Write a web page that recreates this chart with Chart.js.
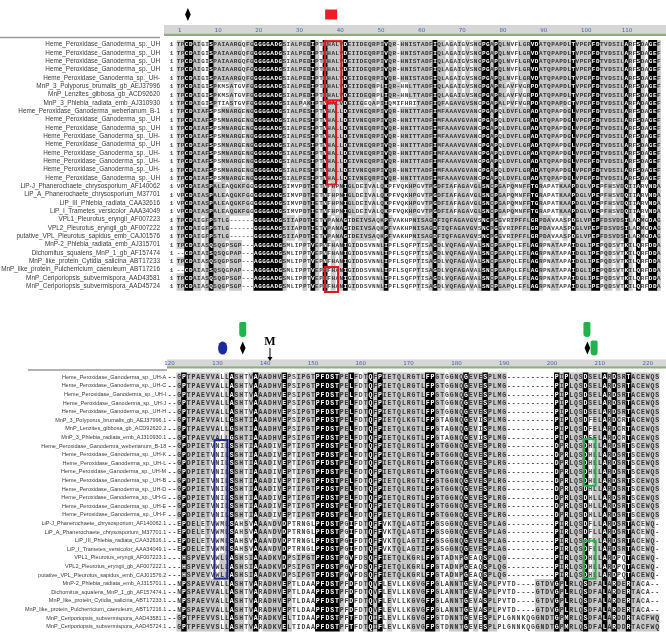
<!DOCTYPE html>
<html>
<head>
<meta charset="utf-8">
<script src="https://cdn.jsdelivr.net/npm/chart.js@4.4.1/dist/chart.umd.min.js"></script>
<style>
html, body { margin: 0; padding: 0; background: #fff; overflow: hidden; }
#wrap { position: relative; width: 666px; height: 634px; overflow: hidden; }
#topBox { position: absolute; left: 0; top: 0; }
#botBox { position: absolute; left: 0; top: 315px; }
</style>
</head>
<body>
<div id="wrap">
  <div id="topBox"><canvas id="topChart" width="666" height="315"></canvas></div>
  <div id="botBox"><canvas id="botChart" width="666" height="330"></canvas></div>
</div>
<script>
// ---- data: top block (positions 1-119) ----
const topTicks = [1, 10, 20, 30, 40, 50, 60, 70, 80, 90, 100, 110];
const topNames = [
  'Heme_Peroxidase_Ganoderma_sp._UH', 'Heme_Peroxidase_Ganoderma_sp._UH', 'Heme_Peroxidase_Ganoderma_sp._UH',
  'Heme_Peroxidase_Ganoderma_sp._UH', 'Heme_Peroxidase_Ganoderma_sp._UH-', 'MnP_3_Polyporus_brumalis_gb_AEJ37996',
  'MnP_Lenzites_gibbosa_gb_ACD92620', 'MnP_3_Phlebia_radiata_emb_AJ310930', 'Heme_Peroxidase_Ganoderma_weberianum_B-1',
  'Heme_Peroxidase_Ganoderma_sp._UH', 'Heme_Peroxidase_Ganoderma_sp._UH', 'Heme_Peroxidase_Ganoderma_sp._UH-',
  'Heme_Peroxidase_Ganoderma_sp._UH', 'Heme_Peroxidase_Ganoderma_sp._UH-', 'Heme_Peroxidase_Ganoderma_sp._UH-',
  'Heme_Peroxidase_Ganoderma_sp._UH-', 'Heme_Peroxidase_Ganoderma_sp._UH', 'LiP-J_Phanerochaete_chrysosporium_AF140062',
  'LiP_A_Phanerochaete_chrysosporium_M37701', 'LiP_III_Phlebia_radiata_CAA32616', 'LiP_I_Trametes_versicolor_AAA34049',
  'VPL1_Pleurotus_eryngii_AF007223', 'VPL2_Pleurotus_eryngii_gb_AF007222', 'putative_VPL_Pleurotus_sapidus_emb_CAJ01576',
  'MnP-2_Phlebia_radiata_emb_AJ315701', 'Dichomitus_squalens_MnP_1_gb_AF157474', 'MnP_like_protein_Cytidia_salicina_ABT17233',
  'MnP_like_protein_Pulcherricium_caeruleum_ABT17216', 'MnP_Ceriporiopsis_subvermispora_AAD43581', 'MnP_Ceriporiopsis_subvermispora_AAD45724'
];
const topRowGroup = [0,0,0,0,0,1,1,2,3,3,3,3,3,3,3,3,3,4,4,4,4,5,5,5,6,7,6,7,6,6];
const topSeq = [
  'TPCDAIGISP AIAARGQFGG GGGADGSIAL PEDIPTNHAL VDEIIDEQRP IVQR-HNIST ADFIQLAGAI GVSNCPGAPQ LNVFLGRVDA TQPAPDLTVP EPFDTVDSIL ARFSDAGEF',
  'TPCDAIGISP KMSATGVFGG GGGADGSIAL PEDIPTNHAL VDEIIDEQRP LIQR-HNLTT ADFIQLAGAI GVSNCPGAPR LAVFVGRPDA TQPAPDLTVP EPFDTVDSIL ARFSDAGEF',
  'TPCDAIGISP TIASTGVFGG GGGADGSIAL PAKIPTNHAL VDEIIGEQAP IIQMIFHRIT ADFIQFAGAV GVSNCPGAPA LPVFVGRPDA TQPAPDCTVP EPFDTVDSIL ARFADAGEF',
  'TPCDAIAFSP SMNARGENGG GGGADGSIAL PESIPTNHAL LDEIVNEQRP IVQR-HNITT ADFIMFAAAV GVANCPGAPQ LDVFLGRADA TQPAPDGLVP EPFDTVDSIL ARFSDAGEF',
  'VPCDAIASPA LEAQGKFGGG GGGADGSIMV PDTIETNFHP NIGLDEIVAL QKPFVQKHPG VTPGDFIAFA GAVGLSNCPG APQMNFFTGR APATKAAPDG LVPEPFHSVD QIIARVNDA',
  'TPCDAIGFPS TLG------G GGGADGSIIA PDTIETVPAN AGIDEIVSAQ KPFVAKHPNI SAGDFIQFAG AVGVSNCPGG VRIPFFLGRP DAVAASPDGL VPEPFDSVDS ILARMGDAG',
  'TPCDAIASQS QGPSGP---A GGGADGSMLI PPTVEPNFHA NIGIDDSVNN LIPFLSQFPT ISAGDLVQFA GAVALSNCPG APQLEFLAGR PNATAPAIDG LIPEPQDSVT KILQRFDDA',
  '--CDAIAISQ SQGPAP---A GGGADGSMLI PPTVEPNFHA NIGIDDSVNN LIPFLSQFPT ISAGDLVQFA GAVALSNCPG APQLEFLAGR PNATAPAIDG LIPEPQDSVT KILQRFDDA'
];
// k = identical (black), g = similar (grey), w = unshaded
const topShade = [
  'ggkkggwwkg ggggggwggk kkkkkkgwgg gggkgwkggg gkgggggggg gkggwggggg gggkggwgwg wgwggkkgkg ggwwgggkkg gggggggkgg ggkkgggggg kgwkgwkkg',
  'ggkkggwwkg wwwgwwwggk kkkkkkgwgg gggkgwkggg gkgggggggw gkgggwwggg gggkggwgwg wgwggkkgkg gwgwgwgkkg gggggggkgg ggkkgggggg kgwkgwkkg',
  'ggkkggwwkg wwwgwwwggk kkkkkkgwgg gwgkgwkggg gkggggwwgw gkwwwwwwwg gggkggwggg ggggwkkgkg gwgwgwgkkg ggggggwkgg ggkkgggggg kgwkgwkkg',
  'ggkkggggkw wgggggwggk kkkkkkgwgg gggkgwkggg gkgggggggg gkggwggggg gggkgggggg ggggwkkgkw gggggggkkg ggggwggkgg ggkkgggggg kgwkgwkkg',
  'wgkkggggkg ggwgggggwk kkkkkkgwww wggkgwkwgw gkggwwgwgw gkwwwwwggw wggkggggwg ggwggkkgkg gwgwwggkkg wwwwgggkgg ggkkwggwgg kgwkwwkkg',
  'ggkkggwgkg gggwwwwwwk kkkkkkgggw gggkgwkgwg gkwggggggw gkgwwwwwgg gggkgggggg ggggwkkgkg wwgggggkkg ggwwwgwkgg ggkkgggggg kgwkgwkkg',
  'ggkkggwgkg ggwgggwwwk kkkkkkgwww wgwkgwkwgw gkwgwwwwww gkwwwwwwwg wwgkgwgggg gwgwgkkgkg ggwwwggkkg wwggwwwkgg ggkkwggwgw kgwkwwkkg',
  'wwkkggwgkg ggwgggwwwk kkkkkkgwww wgwkgwkwgw gkwgwwwwww gkwwwwwwwg wwgkgwgggg gwgwgkkgkg ggwwwggkkg wwggwwwkgg ggkkwggwgw kgwkwwkkg'
];
const topBoxes = [
  { c0: 37, c1: 41, r0: 0.6, r1: 7.7, color: '#e3161d' },
  { c0: 37.5, c1: 39.7, r0: 8, r1: 17.8, color: '#e3161d' },
  { c0: 37, c1: 40.2, r0: 27.7, r1: 30.7, color: '#e3161d' }
];
const topMarks = [
  { col: 3.3, kind: 'diamond', tier: 1 },
  { col: 38.5, kind: 'square', tier: 1 }
];

// ---- data: bottom block (positions 120-222) ----
const botTicks = [120, 130, 140, 150, 160, 170, 180, 190, 200, 210, 220];
const botNames = [
  'Heme_Peroxidase_Ganoderma_sp._UH-A', 'Heme_Peroxidase_Ganoderma_sp._UH-C', 'Heme_Peroxidase_Ganoderma_sp._UH-I',
  'Heme_Peroxidase_Ganoderma_sp._UH-J', 'Heme_Peroxidase_Ganoderma_sp._UH-H', 'MnP_3_Polyporus_brumalis_gb_AEJ37996.1',
  'MnP_Lenzites_gibbosa_gb_ACD92620.2', 'MnP_3_Phlebia_radiata_emb_AJ310930.1', 'Heme_Peroxidase_Ganoderma_weberianum_B-18',
  'Heme_Peroxidase_Ganoderma_sp._UH-K', 'Heme_Peroxidase_Ganoderma_sp._UH-L', 'Heme_Peroxidase_Ganoderma_sp._UH-M',
  'Heme_Peroxidase_Ganoderma_sp._UH-B', 'Heme_Peroxidase_Ganoderma_sp._UH-D', 'Heme_Peroxidase_Ganoderma_sp._UH-G',
  'Heme_Peroxidase_Ganoderma_sp._UH-E', 'Heme_Peroxidase_Ganoderma_sp._UH-F', 'LiP-J_Phanerochaete_chrysosporium_AF140062.1',
  'LiP_A_Phanerochaete_chrysosporium_M37701.1', 'LiP_III_Phlebia_radiata_CAA32616.1', 'LiP_I_Trametes_versicolor_AAA34049.1',
  'VPL1_Pleurotus_eryngii_AF007223.1', 'VPL2_Pleurotus_eryngii_gb_AF007222.1', 'putative_VPL_Pleurotus_sapidus_emb_CAJ01576.2',
  'MnP-2_Phlebia_radiata_emb_AJ315701.1', 'Dichomitus_squalens_MnP_1_gb_AF157474.1', 'MnP_like_protein_Cytidia_salicina_ABT17233.1',
  'MnP_like_protein_Pulcherricium_caeruleum_ABT17216.1', 'MnP_Ceriporiopsis_subvermispora_AAD43581.1', 'MnP_Ceriporiopsis_subvermispora_AAD45724.1'
];
const botRowGroup = [0,0,0,0,0,1,1,1,2,2,2,2,2,2,2,2,2,3,3,3,3,4,4,4,5,5,5,5,6,6];
const botSeq = [
  '--GPTPAEVV ALLASHTVAA ADHVEPSIPG TPFDSTPELF DTQFPIETQL RGTLFPGTGG NQGEVESPLM G--------- -PIPLQSDSE LARDSRTACE WQS',
  '--GPTPAEVV ALLGSHTIAA ADHVEPSIPG TPFDSTPELF DTQFPIETQL KGTLFPGTAG NQGEVISPLM G--------- -PIPLQSDFE LARDCRTACE WQS',
  '--GPDPIETV NILSSHTIAA ADIVEPTIPG TPFDSTPELF DTQFPIETQL RGTLFPGTGG NQGEVESPLR G--------- -DPRLQSDHL LARDSRTSCE WQS',
  '--EPDELETV WMLSAHSVAA ANDVDPTRNG LPFDSTPGIF DTQFFVKTQL AGTIFPGSGG NQGEVESPLA G--------- -PIRLQSDFL LARDSRTACE WQ-',
  '---HSPVEVV WLLASHSIAA ADKVDPSIPG TPFDSTPGVF DSQFFIETQL KGRLFPGTAD NPGEAQSPLQ G--------- -PIRLQSDHL LARDPQTACE WQ-',
  '--NPSPAEVV ALLASHTVAR ADHVEPTLDA APFDSTPFDF DTQVFLEVLL KGVGFPGLAN NTGEVASPLP VTD----GTD VGPLRLQSDF ALARDERTAC A--',
  '--GPTPFEVV SLLASHTVAR ADKVELTIDA APFDSTPFTF DTQIFLEVLL KGVGFPGTDN NTGEVESPLP LGNNKQGGND TGPMRLQSDF ALARDDRTAC FWQ'
];
const botShade = [
  'wwgkgggggg gwgkggwgkg ggggkgwggg gkkkkkggkg wgkgkggggg ggggkkggwg ggkgggkggg gwwwwwwwww wkgkgggkgg gkgkggkggg ggg',
  'wwgkgggggg gwgkggggkg ggggkgwggg gkkkkkggkg wgkgkggggg ggggkkgwwg ggkggwkggg gwwwwwwwww wkgkgggkwg gkgkgwkggg ggg',
  'wwgkgggggw wwgkggwgkg ggwgkgwggg gkkkkkggkg wgkgkggggg ggggkkgggg ggkgggkggg gwwwwwwwww wkgkgggkwg gkgkggkwgg ggg',
  'wwwkgggwgw wwgkwwgwkg gwggkwwwww wkkkkkgwkw wgkgkwwggg wgggkkgwwg ggkgggkggg gwwwwwwwww wkgkgggkwg gkgkggkggw ggw',
  'wwwkgggggw wggkggwgkg ggggkgwggg gkkkkkgwkw wgkgkggggg ggwgkkgwwg wgkwwwkggg gwwwwwwwww wkgkgggkwg gkgkwwkggg ggw',
  'wwwkgggggg gwgkggwgkw ggggkgwwww wkkkkkgwkw wgkgkwgwww wgggkkgwwg ggkwgwkggw wwwwwwwggg gkgkgggkgg gkgkggkggw www',
  'wwgkgggggg gwgkggwgkw ggggkgwwww wkkkkkgwkw wgkgkwgwww wgggkkgwwg ggkwgwkggw wwwwwwwggg gkgkgggkgg gkgkggkggg ggg'
];
const botBoxes = [
  { c0: 129.4, c1: 132.1, r0: 8.3, r1: 24.4, color: '#1f2a96' },
  { c0: 206.7, c1: 209.1, r0: 8.2, r1: 13.6, color: '#27b14a' },
  { c0: 206.7, c1: 209.1, r0: 20, r1: 24.4, color: '#27b14a' }
];
const botMarks = [
  { col: 131.1, kind: 'ellipse', tier: 2 },
  { col: 135.3, kind: 'pin', tier: 1 },
  { col: 135.3, kind: 'diamond', tier: 2 },
  { col: 141, kind: 'arrow', text: 'M' },
  { col: 207.3, kind: 'pin', tier: 1 },
  { col: 207.4, kind: 'diamond', tier: 2 },
  { col: 208.8, kind: 'pin', tier: 2 }
];

const clean = s => s.replace(/\s+/g, '');

function drawMark(ctx, m, px, st) {
  ctx.save();
  if (m.kind === 'diamond') {
    const cy = st.tiers[m.tier];
    ctx.fillStyle = '#000';
    ctx.beginPath();
    ctx.moveTo(px, cy - 6.5); ctx.lineTo(px + 2.8, cy); ctx.lineTo(px, cy + 6.5); ctx.lineTo(px - 2.8, cy);
    ctx.closePath(); ctx.fill();
  } else if (m.kind === 'square') {
    const cy = st.tiers[m.tier];
    ctx.fillStyle = '#ee1c24';
    ctx.fillRect(px - 6, cy - 5, 12, 10);
  } else if (m.kind === 'ellipse') {
    const cy = st.tiers[m.tier];
    ctx.fillStyle = '#1d2a9a';
    ctx.beginPath(); ctx.ellipse(px, cy, 4.6, 6.6, 0, 0, Math.PI * 2); ctx.fill();
  } else if (m.kind === 'pin') {
    const cy = st.tiers[m.tier], w = 7, h = 15, r = w / 2, top = cy - h / 2;
    ctx.fillStyle = '#22b14c';
    ctx.beginPath();
    ctx.moveTo(px - r, top + 1.5);
    ctx.quadraticCurveTo(px - r, top, px - r + 1.5, top);
    ctx.lineTo(px + r - 1.5, top);
    ctx.quadraticCurveTo(px + r, top, px + r, top + 1.5);
    ctx.lineTo(px + r, top + h - r);
    ctx.arc(px, top + h - r, r, 0, Math.PI);
    ctx.closePath(); ctx.fill();
  } else if (m.kind === 'arrow') {
    ctx.fillStyle = '#000'; ctx.strokeStyle = '#000';
    ctx.font = 'bold 12px "Liberation Serif"';
    ctx.textAlign = 'center'; ctx.textBaseline = 'middle';
    ctx.fillText(m.text, px, st.arrowTop - 5);
    ctx.lineWidth = 1;
    ctx.beginPath(); ctx.moveTo(px, st.arrowTop + 1); ctx.lineTo(px, st.arrowBottom - 3); ctx.stroke();
    ctx.beginPath(); ctx.moveTo(px - 2.5, st.arrowBottom - 4); ctx.lineTo(px + 2.5, st.arrowBottom - 4); ctx.lineTo(px, st.arrowBottom); ctx.closePath(); ctx.fill();
  }
  ctx.restore();
}

function alignPlugin(p) {
  return {
    id: 'align',
    beforeDraw(chart) {
      const { ctx, chartArea } = chart;
      const st = p.style;
      ctx.save();
      ctx.fillStyle = '#d6d6d6';
      ctx.fillRect(st.bandLeft, chartArea.top - st.rulerH, chart.width - st.bandLeft, st.rulerH - 2);
      ctx.fillStyle = '#8fae80';
      ctx.fillRect(st.bandLeft, chartArea.top - 2.2, chart.width - st.bandLeft, 2.2);
      ctx.strokeStyle = '#9a9a9a';
      ctx.lineWidth = 1.6;
      ctx.beginPath(); ctx.moveTo(st.lineX0, chartArea.top + 1.5); ctx.lineTo(st.lineX1, chartArea.top + 1.5); ctx.stroke();
      ctx.restore();
    },
    afterDatasetsDraw(chart) {
      const { ctx, scales: { x, y } } = chart;
      const st = p.style;
      ctx.save();
      ctx.font = st.letterFont;
      ctx.textAlign = 'center';
      ctx.textBaseline = 'middle';
      p.groups.forEach((g, i) => {
        const seq = clean(p.seq[g]), sh = clean(p.shade[g]);
        const py = y.getPixelForValue(i + 1) + 0.5;
        for (let j = 0; j < seq.length; j++) {
          ctx.fillStyle = sh[j] === 'k' ? '#ffffff' : (sh[j] === 'g' ? '#333333' : '#454545');
          ctx.fillText(seq[j], x.getPixelForValue(p.first + j), py);
        }
        if (p.startNum) {
          ctx.fillStyle = '#444';
          ctx.fillText(String(p.startNum[i]), st.startX, py);
        }
      });
      ctx.restore();
    },
    afterDraw(chart) {
      const { ctx, scales: { x, y } } = chart;
      ctx.save();
      ctx.lineWidth = 2;
      p.boxes.forEach(b => {
        ctx.strokeStyle = b.color;
        const x0 = x.getPixelForValue(b.c0), x1 = x.getPixelForValue(b.c1);
        const y0 = y.getPixelForValue(b.r0), y1 = y.getPixelForValue(b.r1);
        ctx.strokeRect(x0, y0, x1 - x0, y1 - y0);
      });
      ctx.restore();
      p.marks.forEach(m => drawMark(ctx, m, x.getPixelForValue(m.col), p.style));
    }
  };
}

function makePanel(canvasId, p) {
  const st = p.style;
  const bars = { k: [], g: [] };
  p.groups.forEach((g, i) => {
    const sh = clean(p.shade[g]);
    let j = 0;
    while (j < sh.length) {
      let k = j;
      while (k + 1 < sh.length && sh[k + 1] === sh[j]) k++;
      if (bars[sh[j]]) bars[sh[j]].push({ x: [p.first + j - 0.5, p.first + k + 0.5], y: i + 1 });
      j = k + 1;
    }
  });
  const rows = p.names.map((n, i) => i + 1);
  const cv = document.getElementById(canvasId);
  return new Chart(cv.getContext('2d'), {
    type: 'bar',
    data: {
      datasets: [
        { label: 'identical', data: bars.k, backgroundColor: '#000000' },
        { label: 'similar', data: bars.g, backgroundColor: '#c8c8c8' }
      ]
    },
    options: {
      indexAxis: 'y',
      responsive: false,
      animation: false,
      events: [],
      devicePixelRatio: 1,
      layout: { padding: { left: 0, right: cv.width - st.right, top: st.top - st.rulerH, bottom: cv.height - st.bottom } },
      datasets: { bar: { barPercentage: 1, categoryPercentage: 1, grouped: false, borderWidth: 0 } },
      plugins: { legend: { display: false }, tooltip: { enabled: false } },
      scales: {
        x: {
          type: 'linear', position: 'top',
          min: p.first - 0.5, max: p.last + 0.5,
          grid: { display: false, drawTicks: false }, border: { display: false },
          afterBuildTicks: s => { s.ticks = p.ticks.map(v => ({ value: v })); },
          afterFit: s => { s.height = st.rulerH; },
          ticks: { autoSkip: false, maxRotation: 0, padding: st.tickPad, align: st.tickAlign, labelOffset: st.tickOffset,
                   color: '#4a62a6', font: { family: 'DejaVu Sans', size: st.tickSize } }
        },
        y: {
          type: 'linear', reverse: true, min: 0.5, max: p.names.length + 0.5,
          grid: { display: false, drawTicks: false }, border: { display: false },
          afterBuildTicks: s => { s.ticks = rows.map(v => ({ value: v })); },
          afterFit: s => { s.width = st.left; },
          ticks: { autoSkip: false, padding: st.labelPad, color: '#3a3a3a',
                   font: { family: 'Liberation Sans', size: st.labelSize },
                   callback: v => p.names[v - 1] }
        }
      }
    },
    plugins: [alignPlugin(p)]
  });
}

makePanel('topChart', {
  names: topNames, groups: topRowGroup, seq: topSeq, shade: topShade,
  first: 1, last: 119, ticks: topTicks, boxes: topBoxes, marks: topMarks,
  startNum: topNames.map(() => 1),
  style: { left: 176.5, right: 660.8, top: 36, bottom: 307.5, rulerH: 11, tickPad: 2, tickSize: 5.5,
           tickAlign: 'start', tickOffset: -0.5, labelPad: 16.5, labelSize: 6.4,
           letterFont: 'bold 6px "Liberation Mono"', bandLeft: 164, lineX0: 0, lineX1: 160, startX: 171.5,
           tiers: { 1: 14.5 } }
});

makePanel('botChart', {
  names: botNames, groups: botRowGroup, seq: botSeq, shade: botShade,
  first: 120, last: 222, ticks: botTicks, boxes: botBoxes, marks: botMarks,
  style: { left: 167.2, right: 659.6, top: 53.5, bottom: 320.5, rulerH: 9, tickPad: 1.5, tickSize: 5.5,
           tickAlign: 'center', tickOffset: 0, labelPad: 1, labelSize: 5.5,
           letterFont: 'bold 6.5px "Liberation Mono"', bandLeft: 167, lineX0: 28, lineX1: 167,
           tiers: { 1: 14.5, 2: 33 }, arrowTop: 32, arrowBottom: 46 }
});
</script>
</body>
</html>
